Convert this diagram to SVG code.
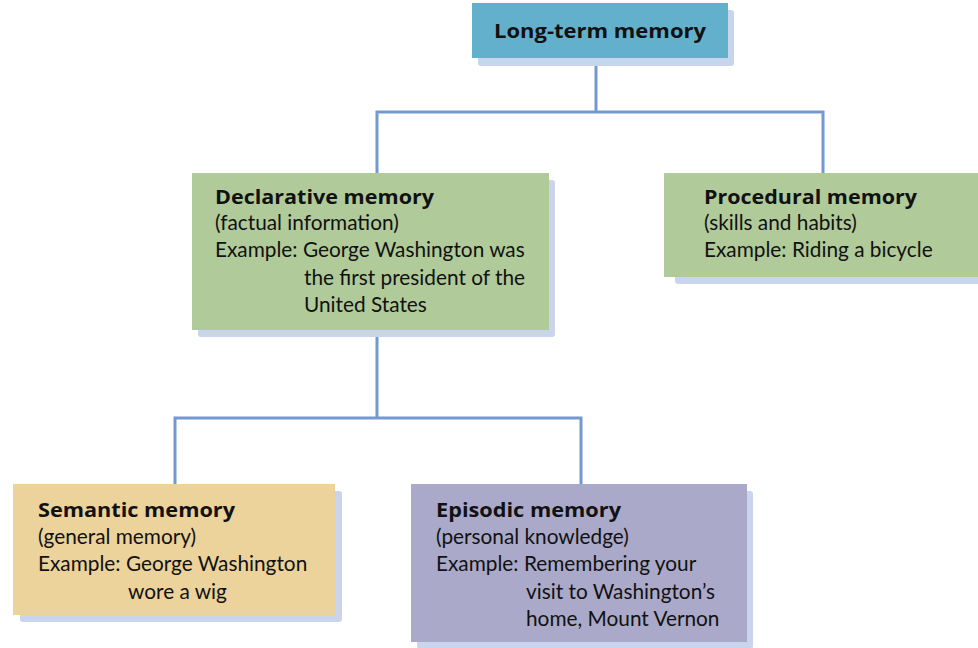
<svg xmlns="http://www.w3.org/2000/svg" width="978" height="648" viewBox="0 0 978 648">
<style>
.shadow{fill:#c9d5ec}
.t{font-family:Lato,"Open Sans","Liberation Sans",sans-serif;font-size:20.8px;fill:#111}
.b{font-family:"Open Sans",Lato,"Liberation Sans",sans-serif;font-weight:bold;font-size:20px}
.conn{fill:none;stroke:#7399d0;stroke-width:3}
</style>
<rect width="978" height="648" fill="#fff"/>
<g id="connectors">
<path class="conn" d="M596 58V112M377 173V112H823V173"/>
<path class="conn" d="M377 330V418M175 484V418H581V484"/>
</g>
<g id="long-term">
<rect class="shadow" x="478" y="10" width="256" height="56" rx="3"/>
<rect x="472" y="3" width="256" height="55" fill="#63b0cd"/>
<text class="t b" x="494" y="38" textLength="212" lengthAdjust="spacingAndGlyphs">Long-term memory</text>
</g>
<g id="declarative">
<rect class="shadow" x="198" y="180" width="357" height="157" rx="3"/>
<rect x="192" y="173" width="357" height="157" fill="#b0ca9a"/>
<text class="t b" x="215" y="204" textLength="219" lengthAdjust="spacingAndGlyphs">Declarative memory</text>
<text class="t" x="215" y="230">(factual information)</text>
<text class="t" x="215" y="257">Example: George Washington was</text>
<text class="t" x="304" y="285">the first president of the</text>
<text class="t" x="304" y="312">United States</text>
</g>
<g id="procedural">
<rect class="shadow" x="675" y="180" width="310" height="104" rx="3"/>
<rect x="664" y="173" width="320" height="104" fill="#b0ca9a"/>
<text class="t b" x="704" y="204" textLength="213" lengthAdjust="spacingAndGlyphs">Procedural memory</text>
<text class="t" x="704" y="230">(skills and habits)</text>
<text class="t" x="704" y="257">Example: Riding a bicycle</text>
</g>
<g id="semantic">
<rect class="shadow" x="20" y="491" width="322" height="131" rx="3"/>
<rect x="13" y="484" width="322" height="131" fill="#ecd29b"/>
<text class="t b" x="38" y="517" textLength="197" lengthAdjust="spacingAndGlyphs">Semantic memory</text>
<text class="t" x="38" y="544">(general memory)</text>
<text class="t" x="38" y="571">Example: George Washington</text>
<text class="t" x="128" y="599">wore a wig</text>
</g>
<g id="episodic">
<rect class="shadow" x="417" y="491" width="336" height="158" rx="3"/>
<rect x="411" y="484" width="336" height="158" fill="#aaa9c9"/>
<text class="t b" x="436" y="517" textLength="185" lengthAdjust="spacingAndGlyphs">Episodic memory</text>
<text class="t" x="436" y="544">(personal knowledge)</text>
<text class="t" x="436" y="571">Example: Remembering your</text>
<text class="t" x="526" y="599">visit to Washington’s</text>
<text class="t" x="526" y="626">home, Mount Vernon</text>
</g>
</svg>
